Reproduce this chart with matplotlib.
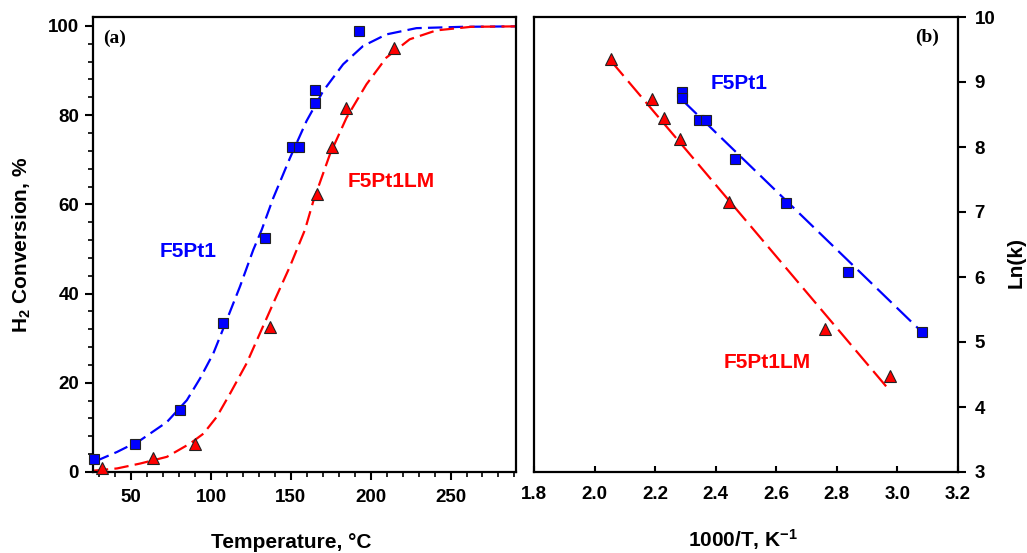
import matplotlib
matplotlib.use("Agg")
import matplotlib.pyplot as plt
from matplotlib.ticker import MultipleLocator, FormatStrFormatter

plt.rcParams['font.family'] = ['Liberation Sans', 'DejaVu Sans']
plt.rcParams['font.weight'] = 'bold'
plt.rcParams['mathtext.fontset'] = 'custom'
plt.rcParams['mathtext.rm'] = 'Liberation Sans:bold'
plt.rcParams['mathtext.it'] = 'Liberation Sans:bold'
plt.rcParams['mathtext.bf'] = 'Liberation Sans:bold'
plt.rcParams['mathtext.default'] = 'regular'

# ---- panel (a): H2 conversion vs temperature ----
temp_f5pt1 = [26.9, 52.5, 80.2, 107.7, 133.9, 150.8, 155.0, 164.8, 164.8, 192.5]
conv_f5pt1 = [2.9, 6.2, 14.0, 33.3, 52.4, 72.8, 72.8, 85.6, 82.7, 98.9]
temp_f5pt1lm = [31.7, 63.9, 90.0, 136.9, 166.1, 175.8, 184.8, 214.6]
conv_f5pt1lm = [1.0, 3.2, 6.2, 32.4, 62.3, 72.8, 81.5, 95.1]

# fitted curves
fit_t_f5pt1 = [27.5, 41.1, 55.6, 72.3, 84.8, 93.1, 101.4, 109.8, 118.1, 126.4, 131.7,
               138.9, 149.4, 159.8, 170.2, 182.7, 195.2, 209.8, 228.6, 257.7, 290.6]
fit_c_f5pt1 = [2.4, 4.5, 7.1, 11.2, 16.1, 21.0, 26.6, 34.1, 41.6, 49.8, 54.3,
               61.4, 70.4, 78.7, 85.4, 91.4, 95.5, 98.1, 99.5, 99.8, 99.9]
fit_t_f5pt1lm = [26.5, 41.1, 55.6, 72.3, 86.9, 95.2, 103.6, 111.9, 122.3, 130.6, 138.9,
                 149.4, 158.8, 164.0, 174.4, 184.8, 197.3, 209.8, 224.4, 241.1, 262.9, 290.6]
fit_c_f5pt1lm = [0.3, 0.8, 1.9, 3.4, 6.4, 8.6, 12.4, 17.6, 24.4, 31.1, 37.8,
                 46.1, 54.3, 60.7, 71.2, 79.4, 86.9, 92.9, 97.0, 99.0, 99.8, 99.9]

# ---- panel (b): Arrhenius plot ----
invT_f5pt1 = [2.290, 2.290, 2.344, 2.368, 2.464, 2.631, 2.836, 3.080]
lnk_f5pt1 = [8.85, 8.75, 8.41, 8.41, 7.81, 7.14, 6.08, 5.15]
invT_f5pt1lm = [2.053, 2.189, 2.230, 2.282, 2.444, 2.761, 2.975]
lnk_f5pt1lm = [9.36, 8.74, 8.44, 8.13, 7.16, 5.20, 4.48]

line_x_f5pt1 = [2.290, 3.075]
line_y_f5pt1 = [8.72, 5.18]
line_x_f5pt1lm = [2.053, 2.975]
line_y_f5pt1lm = [9.33, 4.25]

blue = '#0000ff'
red = '#ff0000'
W, H = 1027, 553

fig = plt.figure(figsize=(W / 100, H / 100), dpi=100)
ax1 = fig.add_axes([93 / W, 1 - 472 / H, (516 - 93) / W, (472 - 17) / H])
ax2 = fig.add_axes([534 / W, 1 - 472 / H, (958 - 534) / W, (472 - 17) / H])

for ax in (ax1, ax2):
    for s in ax.spines.values():
        s.set_linewidth(1.6)

# panel (a)
ax1.plot(fit_t_f5pt1, fit_c_f5pt1, color=blue, lw=1.6, dashes=(6.5, 2.8), zorder=2)
ax1.plot(fit_t_f5pt1lm, fit_c_f5pt1lm, color=red, lw=1.6, dashes=(6.5, 2.8), zorder=2)
ax1.plot(temp_f5pt1, conv_f5pt1, 's', color=blue, ms=7.5, mec='#222222', mew=0.8,
         clip_on=False, zorder=3)
ax1.plot(temp_f5pt1lm, conv_f5pt1lm, '^', color=red, ms=9, mec='#222222', mew=0.8,
         clip_on=False, zorder=3)
ax1.set_xlim(26, 291)
ax1.set_ylim(0, 102)
ax1.xaxis.set_major_locator(MultipleLocator(50))
ax1.xaxis.set_minor_locator(MultipleLocator(10))
ax1.yaxis.set_major_locator(MultipleLocator(20))
ax1.yaxis.set_minor_locator(MultipleLocator(4))
ax1.tick_params(which='major', direction='out', length=6, width=1.5, labelsize=13.5, pad=4)
ax1.tick_params(which='minor', direction='out', length=3.5, width=1.2)
ax1.tick_params(axis='x', which='major', pad=6)
ax1.tick_params(top=False, right=False)
ax1.text(85.6, 49.4, 'F5Pt1', color=blue, fontsize=15, fontweight='bold', ha='center', va='center')
ax1.text(213.1, 65.1, 'F5Pt1LM', color=red, fontsize=15, fontweight='bold', ha='center', va='center')
ax1.text(0.023, 0.952, '(a)', transform=ax1.transAxes, fontsize=14, fontweight='bold',
         family='Liberation Serif', ha='left', va='center')

# panel (b)
ax2.plot(line_x_f5pt1, line_y_f5pt1, color=blue, lw=1.6, dashes=(9, 3.2), zorder=2)
ax2.plot(line_x_f5pt1lm, line_y_f5pt1lm, color=red, lw=1.6, dashes=(9, 3.2), zorder=2)
ax2.plot(invT_f5pt1, lnk_f5pt1, 's', color=blue, ms=7.5, mec='#222222', mew=0.8, zorder=3)
ax2.plot(invT_f5pt1lm, lnk_f5pt1lm, '^', color=red, ms=9, mec='#222222', mew=0.8, zorder=3)
ax2.set_xlim(1.8, 3.2)
ax2.set_ylim(3, 10)
ax2.xaxis.set_major_locator(MultipleLocator(0.2))
ax2.yaxis.set_major_locator(MultipleLocator(1))
ax2.yaxis.tick_right()
ax2.tick_params(axis='x', direction='in', length=4, width=1.5, labelsize=13.5, pad=10)
ax2.tick_params(axis='y', direction='out', length=6, width=1.5, labelsize=13.5, pad=6,
                left=False, right=True)
ax2.xaxis.set_major_formatter(FormatStrFormatter('%.1f'))
ax2.text(2.478, 8.98, 'F5Pt1', color=blue, fontsize=15, fontweight='bold', ha='center', va='center')
ax2.text(2.571, 4.69, 'F5Pt1LM', color=red, fontsize=15, fontweight='bold', ha='center', va='center')
ax2.text(0.955, 0.956, '(b)', transform=ax2.transAxes, fontsize=14, fontweight='bold',
         family='Liberation Serif', ha='right', va='center')

for lab in ax1.get_xticklabels() + ax1.get_yticklabels() + ax2.get_xticklabels() + ax2.get_yticklabels():
    lab.set_fontweight('bold')

# axis titles
fig.text(291 / W, 1 - 542 / H, 'Temperature, °C', fontsize=15, fontweight='bold', ha='center', va='center')
fig.text(743 / W, 1 - 540 / H, '1000/T, K$^{-1}$', fontsize=15, fontweight='bold',
         ha='center', va='center')
fig.text(22 / W, 1 - 245 / H, 'H$_{2}$ Conversion, %', fontsize=15, fontweight='bold',
         rotation=90, ha='center', va='center')
fig.text(1016 / W, 1 - 262 / H, 'Ln(k)', fontsize=15, fontweight='bold', rotation=90,
         ha='center', va='center')

fig.savefig('out.png', dpi=100)
